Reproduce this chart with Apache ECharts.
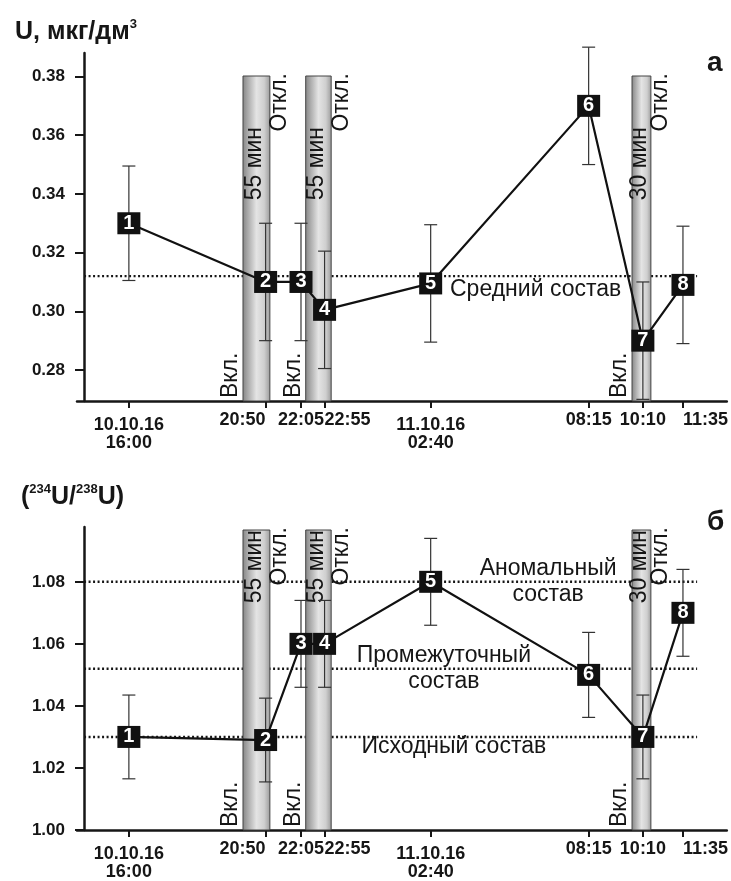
<!DOCTYPE html>
<html><head><meta charset="utf-8">
<script src="https://cdn.jsdelivr.net/npm/echarts@6/dist/echarts.min.js"></script>
<style>html,body{margin:0;padding:0;background:#fff}#c{width:731px;height:881px}</style>
</head><body><div id="c"></div>
<script>
// minutes after 10.10.16 16:00
const sampleTimes = [0, 290, 365, 415, 640, 975, 1090, 1175];
const sampleNames = ['1','2','3','4','5','6','7','8'];
const tickLabels = ['10.10.16\n16:00','20:50','22:05','22:55','11.10.16\n02:40','08:15','10:10','11:35'];
const uConc = [0.330, 0.310, 0.310, 0.3005, 0.3095, 0.370, 0.290, 0.309];
const uConcErr = [0.0195, 0.020, 0.020, 0.020, 0.020, 0.020, 0.020, 0.020];
const uRatio = [1.030, 1.029, 1.060, 1.060, 1.080, 1.050, 1.030, 1.070];
const uRatioErr = [0.0135, 0.0135, 0.014, 0.014, 0.014, 0.0137, 0.0135, 0.014];
const pumpStart = [242, 375, 1067];
const pumpEnd = [299, 429, 1107];
const pumpDuration = ['55 мин','55 мин','30 мин'];
const pumpOnText = 'Вкл.';
const pumpOffText = 'Откл.';
const uConcTicks = [0.28, 0.30, 0.32, 0.34, 0.36, 0.38];
const uRatioTicks = [1.00, 1.02, 1.04, 1.06, 1.08];
const uConcRefValues = [0.312];
const uConcRefNames = ['Средний состав'];
const uRatioRefValues = [1.08, 1.052, 1.03];
const uRatioRefNames = ['Аномальный\nсостав', 'Промежуточный\nсостав', 'Исходный состав'];

const FONT = 'Liberation Sans, Arial, sans-serif';
const INK = '#161616';
const X_MIN = -110, X_MAX = 1268;
const REF_X0 = -95, REF_X1 = 1205;

// label placement (layout only)
const uConcRefPlace = [{t: 681, align: 'left', dy: 14}];
const uRatioRefPlace = [{t: 889, align: 'center', dy: 0}, {t: 668, align: 'center', dy: 0}, {t: 689, align: 'center', dy: 10}];

const chart = echarts.init(document.getElementById('c'), null, {renderer: 'canvas'});

function idxOf(v) { return sampleTimes.indexOf(v); }

function xAxesFor(gi) {
  const base = {
    type: 'value', gridIndex: gi, min: X_MIN, max: X_MAX, position: 'bottom',
    splitLine: {show: false},
    axisLine: {show: false, onZero: false},
    axisTick: {show: false},
  };
  const lbl = {
    fontFamily: FONT, fontWeight: 'bold', fontSize: 18, color: INK,
    formatter: v => tickLabels[idxOf(v)] || ''
  };
  return [
    Object.assign({}, base, {
      axisLine: {show: true, onZero: false, lineStyle: {color: INK, width: 2.5}},
      axisTick: {show: true, customValues: sampleTimes, length: 7, lineStyle: {color: INK, width: 2}},
      axisLabel: Object.assign({}, lbl, {customValues: [365, 975, 1090], margin: 10})
    }),
    Object.assign({}, base, {axisLabel: Object.assign({}, lbl, {customValues: [290], margin: 10, align: 'right'})}),
    Object.assign({}, base, {axisLabel: Object.assign({}, lbl, {customValues: [415, 1175], margin: 10, align: 'left'})}),
    Object.assign({}, base, {axisLabel: Object.assign({}, lbl, {customValues: [0, 640], margin: 15, lineHeight: 18})})
  ];
}

function yAxisFor(gi, min, max, ticks) {
  return {
    type: 'value', gridIndex: gi, min: min, max: max, offset: -7, position: 'left',
    splitLine: {show: false},
    axisLine: {show: true, onZero: false, lineStyle: {color: INK, width: 2.5}},
    axisTick: {show: true, customValues: ticks, length: 9, lineStyle: {color: INK, width: 2}},
    axisLabel: {customValues: ticks, formatter: v => v.toFixed(2), fontFamily: FONT, fontWeight: 'bold', fontSize: 17, color: INK, margin: 19}
  };
}

function bandGradient() {
  return new echarts.graphic.LinearGradient(0, 0, 1, 0, [
    {offset: 0, color: '#858585'},
    {offset: 0.5, color: '#e4e4e4'},
    {offset: 0.78, color: '#cfcfcf'},
    {offset: 1, color: '#9a9a9a'}
  ]);
}

function seriesFor(gi, values, errs, yMin, bandTop, durOffset, refValues, refNames, refPlace) {
  const xi = gi * 4, yi = gi;
  const common = {xAxisIndex: xi, yAxisIndex: yi, silent: true, animation: false};
  const out = [];
  refValues.forEach((v, k) => {
    out.push(Object.assign({}, common, {
      type: 'line', z: 1, symbol: 'none',
      data: [[REF_X0, v], [REF_X1, v]],
      lineStyle: {color: INK, width: 2.4, type: [2, 2.5]}
    }));
  });
  out.push(Object.assign({}, common, {
    type: 'custom', z: 2,
    data: refValues.map((v, k) => [refPlace[k].t, v, k]),
    renderItem: (params, api) => {
      const k = api.value(2);
      const p = api.coord([api.value(0), api.value(1)]);
      return {type: 'text', x: p[0], y: p[1] + refPlace[k].dy, style: {
        text: refNames[k], fontFamily: FONT, fontSize: 23, fill: INK,
        align: refPlace[k].align, verticalAlign: 'middle', lineHeight: 26
      }};
    }
  }));
  out.push(Object.assign({}, common, {
    type: 'custom', z: 3,
    data: pumpStart.map((s, k) => [s, pumpEnd[k], k]),
    renderItem: (params, api) => {
      const k = api.value(2);
      const p0 = api.coord([api.value(0), bandTop]);
      const p1 = api.coord([api.value(1), yMin]);
      const w = p1[0] - p0[0];
      const txt = (s, x, y, align) => ({type: 'text', x: x, y: y, rotation: Math.PI / 2,
        style: {text: s, fontFamily: FONT, fontSize: 23, fill: INK, align: align, verticalAlign: 'middle'}});
      return {type: 'group', children: [
        {type: 'rect', shape: {x: p0[0], y: p0[1], width: w, height: p1[1] - p0[1]},
          style: {fill: bandGradient(), stroke: '#444', lineWidth: 1}},
        txt(pumpOnText, p0[0] - 12, p1[1] - 3, 'left'),
        txt(pumpDuration[k], p0[0] + w / 2 - 2, p0[1] + durOffset, 'right'),
        txt(pumpOffText, p1[0] + 10, p0[1] - 3, 'right')
      ]};
    }
  }));
  out.push(Object.assign({}, common, {
    type: 'custom', z: 4,
    data: sampleTimes.map((t, k) => [t, values[k] - errs[k], values[k] + errs[k]]),
    renderItem: (params, api) => {
      const lo = api.coord([api.value(0), api.value(1)]);
      const hi = api.coord([api.value(0), api.value(2)]);
      const st = {stroke: '#333', lineWidth: 1.2};
      const c = 6.5;
      return {type: 'group', children: [
        {type: 'line', shape: {x1: lo[0], y1: lo[1], x2: hi[0], y2: hi[1]}, style: st},
        {type: 'line', shape: {x1: lo[0] - c, y1: lo[1], x2: lo[0] + c, y2: lo[1]}, style: st},
        {type: 'line', shape: {x1: hi[0] - c, y1: hi[1], x2: hi[0] + c, y2: hi[1]}, style: st}
      ]};
    }
  }));
  out.push(Object.assign({}, common, {
    type: 'line', z: 5, symbol: 'none',
    data: sampleTimes.map((t, k) => [t, values[k]]),
    lineStyle: {color: '#111', width: 2.2}
  }));
  out.push(Object.assign({}, common, {
    type: 'scatter', z: 6, symbol: 'rect', symbolSize: [23, 22],
    data: sampleTimes.map((t, k) => [t, values[k]]),
    itemStyle: {color: '#111', opacity: 1},
    label: {show: true, position: 'inside', formatter: p => sampleNames[p.dataIndex],
      color: '#fff', fontFamily: FONT, fontWeight: 'bold', fontSize: 20}
  }));
  return out;
}

const titleRich = {
  a: {fontFamily: FONT, fontWeight: 'bold', fontSize: 25, color: INK, lineHeight: 28},
  s: {fontFamily: FONT, fontWeight: 'bold', fontSize: 13, color: INK, verticalAlign: 'top', lineHeight: 28, padding: [0, 0, 10, 0]}
};

const option = {
  backgroundColor: '#fff',
  animation: false,
  title: [
    {text: '{a|U, мкг/дм}{s|3}', left: 10, top: 13, textStyle: {rich: titleRich}},
    {text: '{a|(}{s|234}{a|U/}{s|238}{a|U)}', left: 16, top: 478, textStyle: {rich: titleRich}},
    {text: 'а', left: 702, top: 44, textStyle: {fontFamily: FONT, fontWeight: 'bold', fontSize: 28, color: INK}},
    {text: 'б', left: 702, top: 503, textStyle: {fontFamily: FONT, fontWeight: 'bold', fontSize: 28, color: INK}}
  ],
  grid: [
    {left: 77, right: 4, top: 53, height: 348, containLabel: false},
    {left: 77, right: 4, top: 527, height: 304, containLabel: false}
  ],
  xAxis: [].concat(xAxesFor(0), xAxesFor(1)),
  yAxis: [
    yAxisFor(0, 0.26944, 0.38801, uConcTicks),
    yAxisFor(1, 1.0, 1.09767, uRatioTicks)
  ],
  series: [].concat(
    seriesFor(0, uConc, uConcErr, 0.26944, 0.38017, 51, uConcRefValues, uConcRefNames, uConcRefPlace),
    seriesFor(1, uRatio, uRatioErr, 1.0, 1.0967, 0, uRatioRefValues, uRatioRefNames, uRatioRefPlace)
  )
};
chart.setOption(option);
</script></body></html>
